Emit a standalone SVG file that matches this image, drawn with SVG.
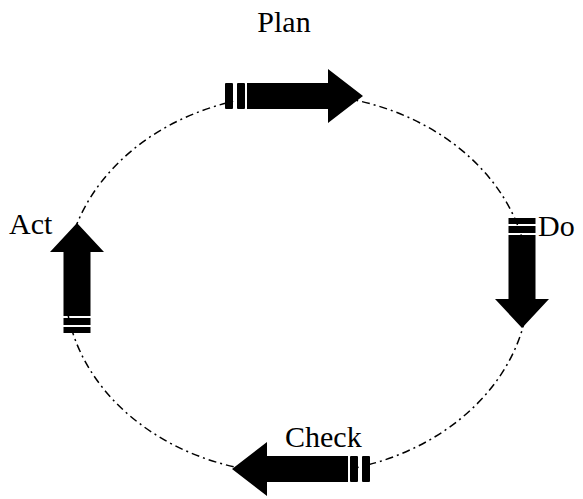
<svg xmlns="http://www.w3.org/2000/svg" xmlns:xlink="http://www.w3.org/1999/xlink" width="583" height="499" viewBox="0 0 583 499">
<style>
.lbl{font-family:"Liberation Serif","Times New Roman",serif;font-size:30px;fill:#000}
.ring{fill:none;stroke:#000;stroke-width:1.5;stroke-dasharray:8 4 2 4}
.arw{fill:#000}
</style>
<defs>
<g id="arrowH" class="arw">
<rect x="0" y="-13" width="8" height="26" rx="1"/>
<rect x="12" y="-13" width="8" height="26" rx="1"/>
<path d="M22,-13H103V-27L138,0L103,27V13H22Z"/>
</g>
<g id="arrowV" class="arw">
<rect x="0" y="-13.5" width="6" height="27"/>
<rect x="8" y="-13.5" width="7" height="27"/>
<path d="M17,-13.5H81V-27L110,0L81,27V13.5H17Z"/>
</g>
</defs>
<rect width="583" height="499" fill="#fff"/>
<g id="connectors">
<ellipse class="ring" cx="297" cy="284" rx="232" ry="190"/>
</g>
<g id="plan">
<use xlink:href="#arrowH" href="#arrowH" transform="translate(225,96)"/>
<text class="lbl" x="284" y="32" text-anchor="middle">Plan</text>
</g>
<g id="do">
<use xlink:href="#arrowV" href="#arrowV" transform="translate(522,218) rotate(90)"/>
<text class="lbl" x="538" y="236">Do</text>
</g>
<g id="check">
<use xlink:href="#arrowH" href="#arrowH" transform="translate(370,469) rotate(180)"/>
<text class="lbl" x="285" y="447">Check</text>
</g>
<g id="act">
<use xlink:href="#arrowV" href="#arrowV" transform="translate(77,333) rotate(-90)"/>
<text class="lbl" x="9" y="234">Act</text>
</g>
</svg>
